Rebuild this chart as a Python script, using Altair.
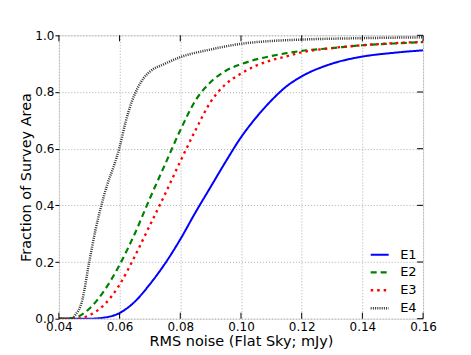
import altair as alt
import pandas as pd

# Shared x grid for E1-E3
x_main = [0.040, 0.045, 0.050, 0.055, 0.060, 0.065, 0.070, 0.075, 0.080, 0.085,
          0.090, 0.095, 0.100, 0.105, 0.110, 0.115, 0.120, 0.130, 0.140, 0.150, 0.160]
e1 = [0.000, 0.000, 0.000, 0.004, 0.020, 0.060, 0.122, 0.195, 0.280, 0.375,
      0.465, 0.555, 0.640, 0.710, 0.770, 0.820, 0.855, 0.900, 0.925, 0.938, 0.947]
e2 = [0.000, 0.003, 0.035, 0.100, 0.190, 0.300, 0.425, 0.545, 0.665, 0.770,
      0.835, 0.875, 0.898, 0.915, 0.927, 0.937, 0.945, 0.955, 0.965, 0.971, 0.976]
e3 = [0.000, 0.000, 0.012, 0.050, 0.120, 0.220, 0.330, 0.440, 0.555, 0.665,
      0.765, 0.828, 0.865, 0.893, 0.912, 0.926, 0.940, 0.955, 0.965, 0.972, 0.977]
# E4 on its own grid
x_e4 = [0.040, 0.044, 0.0455, 0.0475, 0.050, 0.052, 0.054, 0.056, 0.058, 0.060,
        0.062, 0.064, 0.066, 0.068, 0.070, 0.075, 0.080, 0.090, 0.100, 0.110,
        0.120, 0.140, 0.160]
e4 = [0.000, 0.000, 0.015, 0.057, 0.200, 0.310, 0.400, 0.475, 0.535, 0.605,
      0.695, 0.765, 0.815, 0.850, 0.872, 0.900, 0.923, 0.950, 0.970, 0.980,
      0.985, 0.990, 0.993]

series = ["E1", "E2", "E3", "E4"]
colors = ["#0000ff", "#008000", "#ff0000", "#333333"]
dashes = [[1, 0], [6, 4], [2.5, 4], [1, 1.2]]
widths = [2.0, 2.5, 3.0, 3.0]

xticks = [0.04, 0.06, 0.08, 0.10, 0.12, 0.14, 0.16]
yticks = [0.0, 0.2, 0.4, 0.6, 0.8, 1.0]

rows = []
for name, ys in zip(["E1", "E2", "E3"], [e1, e2, e3]):
    for xv, yv in zip(x_main, ys):
        rows.append({"x": xv, "y": yv, "series": name})
for xv, yv in zip(x_e4, e4):
    rows.append({"x": xv, "y": yv, "series": "E4"})
df = pd.DataFrame(rows)

W, H = 365, 284
FONT = "DejaVu Sans"

xscale = alt.Scale(domain=[0.04, 0.16], nice=False, zero=False)
yscale = alt.Scale(domain=[0, 1], nice=False)

legend_cfg = dict(title=None, orient="none", legendX=311, legendY=210,
                  symbolType="stroke", symbolSize=324, symbolStrokeWidth=2.5,
                  labelFont=FONT, labelFontSize=13, labelColor="black",
                  labelOffset=10, rowPadding=0)

lines = alt.Chart(df).mark_line(interpolate="monotone", clip=True).encode(
    x=alt.X("x:Q", scale=xscale,
            axis=alt.Axis(title="RMS noise (Flat Sky; mJy)", values=xticks, format=".2f",
                          grid=True, gridDash=[1, 2], gridColor="#999", gridWidth=0.8,
                          ticks=False, domain=False, labelPadding=3, labelFontSize=12,
                          labelFont=FONT, labelColor="black", titleFont=FONT,
                          titleFontSize=14.5, titleFontWeight="normal", titleColor="black",
                          titlePadding=2, labelFlush=False)),
    y=alt.Y("y:Q", scale=yscale,
            axis=alt.Axis(title="Fraction of Survey Area", values=yticks, format=".1f",
                          grid=True, gridDash=[1, 2], gridColor="#999", gridWidth=0.8,
                          ticks=True, tickSize=4, tickColor="black", tickWidth=1,
                          domain=False, labelPadding=1, labelFontSize=12,
                          labelFont=FONT, labelColor="black", titleFont=FONT,
                          titleFontSize=14.5, titleFontWeight="normal", titleColor="black",
                          titlePadding=1, labelFlush=False)),
    color=alt.Color("series:N", scale=alt.Scale(domain=series, range=colors),
                    legend=alt.Legend(**legend_cfg)),
    strokeDash=alt.StrokeDash("series:N", scale=alt.Scale(domain=series, range=dashes),
                              legend=alt.Legend(**legend_cfg)),
    strokeWidth=alt.StrokeWidth("series:N", scale=alt.Scale(domain=series, range=widths),
                                legend=None),
)

xt = pd.DataFrame({"v": xticks})
yt = pd.DataFrame({"v": yticks})
TL = 6
tick_style = dict(color="black", strokeWidth=1)
xb = alt.Chart(xt).mark_rule(**tick_style).encode(
    x=alt.X("v:Q", scale=xscale), y=alt.value(H), y2=alt.value(H - TL))
xtp = alt.Chart(xt).mark_rule(**tick_style).encode(
    x=alt.X("v:Q", scale=xscale), y=alt.value(0), y2=alt.value(TL))
yr = alt.Chart(yt).mark_rule(**tick_style).encode(
    y=alt.Y("v:Q", scale=yscale), x=alt.value(W), x2=alt.value(W - TL))

chart = alt.layer(lines, xb, xtp, yr).properties(
    width=W, height=H,
    padding={"left": 51, "top": 27, "right": 40, "bottom": 36},
    autosize=alt.AutoSizeParams(type="none"),
).configure_view(stroke="black", strokeWidth=1.2).configure(background="white")

chart.save("out.html", embed_options={"renderer": "svg", "actions": False})
